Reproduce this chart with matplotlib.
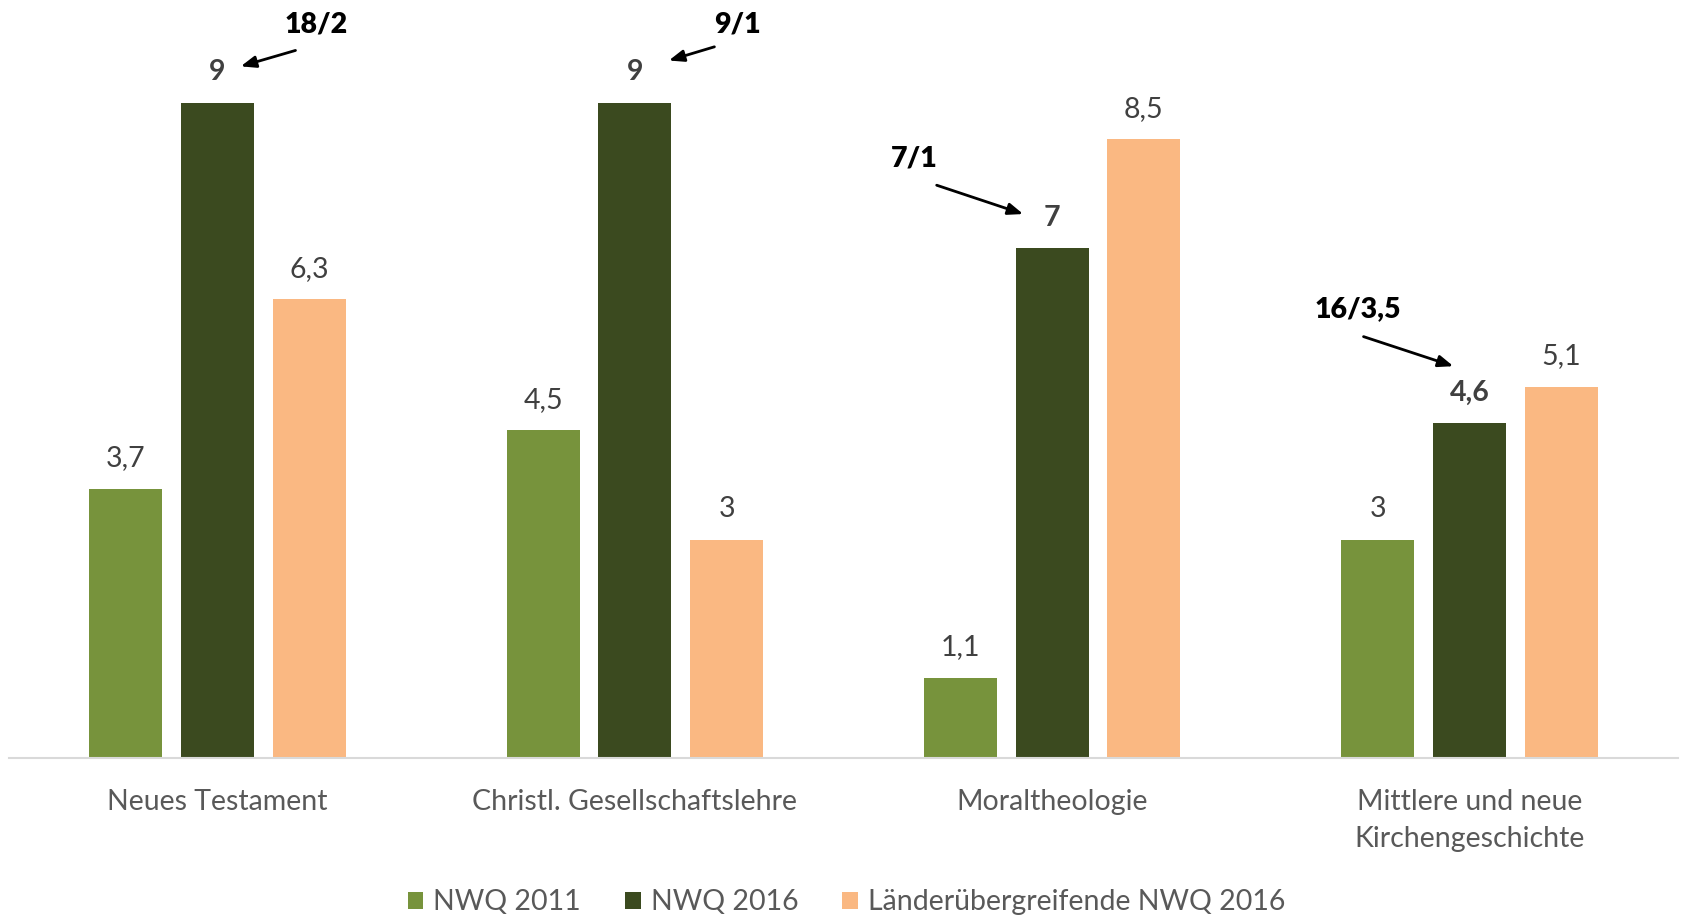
import numpy as np
import matplotlib
matplotlib.use("Agg")
import matplotlib.pyplot as plt

CATEGORIES = ["Neues Testament", "Christl. Gesellschaftslehre", "Moraltheologie",
              "Mittlere und neue\nKirchengeschichte"]
SERIES = ["NWQ 2011", "NWQ 2016", "Länderübergreifende NWQ 2016"]
NWQ_2011 = [3.7, 4.5, 1.1, 3.0]
NWQ_2016 = [9.0, 9.0, 7.0, 4.6]
NWQ_LAENDER = [6.3, 3.0, 8.5, 5.1]
NOTES = ["18/2", "9/1", "7/1", "16/3,5"]

COLORS = ["#77933C", "#3B4A1F", "#FAB882"]
LABEL_C = "#404040"
CAT_C = "#595959"

plt.rcParams["font.family"] = ["Lato", "DejaVu Sans"]

fig = plt.figure(figsize=(16.83, 9.17), dpi=100)
ax = fig.add_axes([9 / 1683, 159 / 917, 1669 / 1683, 728 / 917])

x = np.arange(len(CATEGORIES))
w = 0.175
off = 0.22

for i, (vals, col) in enumerate(zip([NWQ_2011, NWQ_2016, NWQ_LAENDER], COLORS)):
    pos = x + (i - 1) * off
    ax.bar(pos, vals, w, color=col, label=SERIES[i])
    for p, v in zip(pos, vals):
        txt = f"{v:g}".replace(".", ",")
        bold = i == 1
        ax.text(p, v + 0.42, txt, ha="center", va="center", fontsize=20.5,
                color=LABEL_C, fontweight="bold" if bold else "normal")

# annotations (text position, arrow tail, arrow head) in data coords
note_text = [(0.236, 10.08), (1.247, 10.08), (1.669, 8.23), (2.733, 6.17)]
note_tail = [(0.193, 9.73), (1.197, 9.78), (1.717, 7.88), (2.740, 5.80)]
note_head = [(0.049, 9.49), (1.075, 9.57), (1.937, 7.46), (2.968, 5.37)]
for s, t, a, b in zip(NOTES, note_text, note_tail, note_head):
    ax.text(t[0], t[1], s, ha="center", va="center", fontsize=20.5,
            fontweight="heavy", color="black", clip_on=False)
    ax.annotate("", xy=b, xytext=a, annotation_clip=False,
                arrowprops=dict(arrowstyle="-|>,head_length=0.9,head_width=0.35",
                                color="black", lw=2))

ax.set_xlim(-0.5, 3.5)
ax.set_ylim(0, 10)
ax.set_xticks(x)
ax.set_xticklabels(CATEGORIES, fontsize=20.5, color=CAT_C, linespacing=1.55)
ax.tick_params(axis="x", length=0, pad=22)
ax.set_yticks([])
for sp in ["top", "left", "right"]:
    ax.spines[sp].set_visible(False)
ax.spines["bottom"].set_color("#D9D9D9")
ax.spines["bottom"].set_linewidth(1.5)

leg = fig.legend(loc="center", bbox_to_anchor=(0.503, 0.016), ncol=3,
                 frameon=False, fontsize=20.5, handlelength=0.55, handleheight=0.55,
                 handletextpad=0.35, columnspacing=1.55)
for t in leg.get_texts():
    t.set_color(CAT_C)

fig.savefig("out.png", dpi=100)
